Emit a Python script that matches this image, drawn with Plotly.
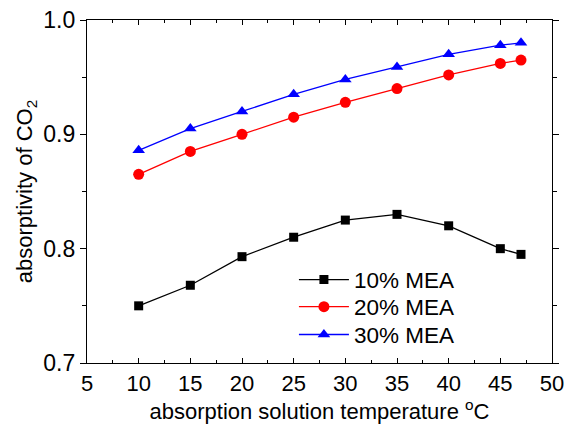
import plotly.graph_objects as go

temps = [10, 15, 20, 25, 30, 35, 40, 45, 47]
mea10 = [0.750, 0.768, 0.793, 0.810, 0.825, 0.830, 0.820, 0.800, 0.795]
mea20 = [0.865, 0.885, 0.900, 0.915, 0.928, 0.940, 0.952, 0.962, 0.965]
mea30 = [0.886, 0.905, 0.920, 0.935, 0.948, 0.959, 0.970, 0.978, 0.980]
names = ["10% MEA", "20% MEA", "30% MEA"]

FONT = "Liberation Sans, Arial, sans-serif"

fig = go.Figure()
fig.add_trace(go.Scatter(x=temps, y=mea10, name=names[0], mode="lines+markers",
                         legend="legend",
                         line=dict(color="black", width=1.3),
                         marker=dict(symbol="square", size=9, color="black")))
fig.add_trace(go.Scatter(x=temps, y=mea20, name=names[1], mode="lines+markers",
                         legend="legend2",
                         line=dict(color="red", width=1.3),
                         marker=dict(symbol="circle", size=11, color="red")))
fig.add_trace(go.Scatter(x=temps, y=mea30, name=names[2], mode="lines+markers",
                         legend="legend3",
                         line=dict(color="blue", width=1.3),
                         marker=dict(symbol="triangle-up", size=11, color="blue")))

def leg(yc):
    return dict(x=0.445, y=yc, xanchor="left", yanchor="middle",
                bgcolor="rgba(0,0,0,0)", font=dict(size=22.5), itemwidth=50)

fig.update_layout(
    width=566, height=426,
    margin=dict(l=87, r=14, t=20, b=63),
    paper_bgcolor="white", plot_bgcolor="white",
    font=dict(family=FONT, size=22, color="black"),
    showlegend=True,
    legend=leg(0.242),
    legend2=leg(0.163),
    legend3=leg(0.082),
    xaxis=dict(range=[5, 50], tick0=5, dtick=5, ticks="inside", ticklen=5,
               tickwidth=1, tickcolor="black", ticklabeloverflow="allow",
               automargin=False,
               showline=True, linecolor="black", linewidth=1.3, mirror="ticks",
               showgrid=False, zeroline=False,
               minor=dict(dtick=2.5, ticks="inside", ticklen=3, tickcolor="black", showgrid=False),
               title=dict(text="absorption solution temperature <sup>o</sup>C", standoff=2,
                          font=dict(size=22)),
               tickfont=dict(size=22)),
    yaxis=dict(range=[0.7, 1.0], tick0=0.7, dtick=0.1, tickformat=".1f",
               ticks="outside", ticklen=6, tickwidth=1, tickcolor="black",
               ticklabeloverflow="allow", automargin=False,
               showline=True, linecolor="black", linewidth=1.3, mirror="ticks",
               showgrid=False, zeroline=False,
               minor=dict(dtick=0.05, ticks="outside", ticklen=4, tickcolor="black", showgrid=False),
               title=dict(text="absorptivity of CO<sub>2</sub>", standoff=4,
                          font=dict(size=22)),
               tickfont=dict(size=23)),
)

fig.write_html("out.html", config={"displayModeBar": False},
               post_script="document.body.style.margin='0';document.body.style.overflow='hidden';")
